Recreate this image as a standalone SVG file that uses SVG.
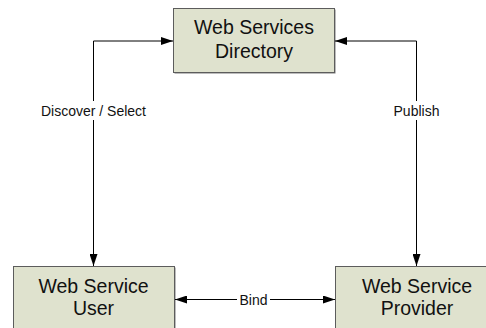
<svg xmlns="http://www.w3.org/2000/svg" width="486" height="328" viewBox="0 0 486 328">
  <style>
    .box { fill: #dfe2ce; stroke: #5c5c5c; stroke-width: 1; }
    .shadow { fill: #7a7a7a; }
    .title { font-family: "Liberation Sans", Arial, sans-serif; font-size: 19.5px; fill: #111; text-anchor: middle; }
    .lbl { font-family: "Liberation Sans", Arial, sans-serif; font-size: 14px; fill: #111; text-anchor: middle; }
    .wire { fill: none; stroke: #000; stroke-width: 1; }
    .gap { fill: #fff; }
  </style>
  <defs>
    <marker id="arrow" viewBox="0 0 12 8" refX="12" refY="4" markerWidth="12" markerHeight="8" markerUnits="userSpaceOnUse" orient="auto-start-reverse">
      <path d="M0,0 L12,4 L0,8 z" fill="#000"/>
    </marker>
  </defs>
  <rect width="486" height="328" fill="#fff"/>

  <g id="directory">
    <rect class="shadow" x="174.5" y="9.5" width="161" height="64"/>
    <rect class="box" x="173.5" y="8.5" width="161" height="64"/>
    <text class="title" x="254" y="34">Web Services</text>
    <text class="title" x="254" y="57.5">Directory</text>
  </g>

  <g id="user">
    <rect class="shadow" x="14.5" y="267.5" width="161" height="70"/>
    <rect class="box" x="13.5" y="266.5" width="161" height="70"/>
    <text class="title" x="93.5" y="293">Web Service</text>
    <text class="title" x="93.5" y="315">User</text>
  </g>

  <g id="provider">
    <rect class="shadow" x="336.5" y="267.5" width="170" height="70"/>
    <rect class="box" x="335.5" y="266.5" width="170" height="70"/>
    <text class="title" x="417" y="293">Web Service</text>
    <text class="title" x="417" y="315">Provider</text>
  </g>

  <g id="connectors">
    <path class="wire" d="M173,41 H93.5 V266" marker-start="url(#arrow)" marker-end="url(#arrow)"/>
    <path class="wire" d="M335,41 H416.5 V266" marker-start="url(#arrow)" marker-end="url(#arrow)"/>
    <path class="wire" d="M175,299.5 H335" marker-start="url(#arrow)" marker-end="url(#arrow)"/>
    <rect class="gap" x="38" y="101" width="112" height="19"/>
    <text class="lbl" x="93.5" y="115.5">Discover / Select</text>
    <rect class="gap" x="389" y="101" width="55" height="19"/>
    <text class="lbl" x="416.5" y="115.5">Publish</text>
    <rect class="gap" x="237" y="292" width="33" height="15"/>
    <text class="lbl" x="253.5" y="304.5">Bind</text>
  </g>
</svg>
